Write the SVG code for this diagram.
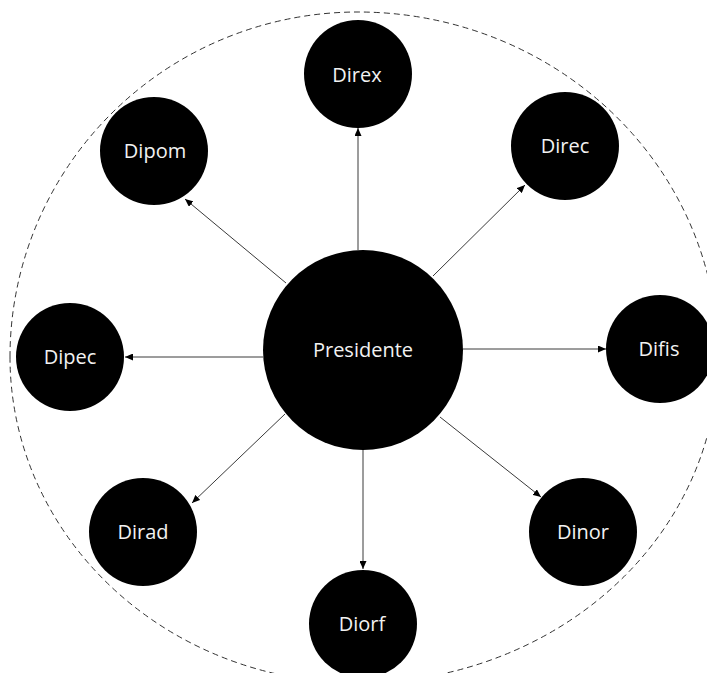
<svg xmlns="http://www.w3.org/2000/svg" width="707" height="673" viewBox="0 0 707 673">
<style>
.node{fill:#000;}
.lbl{fill:#f2f2f2;font-family:"Open Sans","Liberation Sans",sans-serif;font-size:20px;text-anchor:middle;}
.edge{stroke:#3a3a3a;stroke-width:1;fill:none;marker-end:url(#arr);}
.ring{fill:none;stroke:#333;stroke-width:1;stroke-dasharray:6 4;}
</style>
<defs>
<marker id="arr" markerUnits="userSpaceOnUse" markerWidth="8" markerHeight="7" refX="8" refY="3.5" orient="auto">
<path d="M0,0 L8,3.5 L0,7 Z" fill="#000"/>
</marker>
</defs>
<rect width="707" height="673" fill="#fff"/>
<path class="ring" d="M 10 357 A 348 345 0 0 1 358 12 A 360 345 0 0 1 718 357 A 360 326 0 0 1 358 683 A 348 326 0 0 1 10 357 Z"/>
<g id="connectors">
<line class="edge" x1="358" y1="250" x2="358" y2="128"/>
<line class="edge" x1="433" y1="276" x2="525" y2="185"/>
<line class="edge" x1="286" y1="283" x2="185" y2="199"/>
<line class="edge" x1="263" y1="357" x2="125" y2="357"/>
<line class="edge" x1="463" y1="349" x2="606" y2="349"/>
<line class="edge" x1="285" y1="414" x2="192" y2="503"/>
<line class="edge" x1="440" y1="417" x2="541" y2="497"/>
<line class="edge" x1="363" y1="450" x2="363" y2="569"/>
</g>
<g id="presidente"><circle class="node" cx="363" cy="350" r="100"/><text class="lbl" x="363" y="357">Presidente</text></g>
<g id="direx"><circle class="node" cx="358" cy="74" r="54"/><text class="lbl" x="357" y="82">Direx</text></g>
<g id="dipom"><circle class="node" cx="154" cy="151" r="54"/><text class="lbl" x="155" y="158">Dipom</text></g>
<g id="direc"><circle class="node" cx="565" cy="146" r="54"/><text class="lbl" x="565" y="153">Direc</text></g>
<g id="dipec"><circle class="node" cx="70" cy="357" r="54"/><text class="lbl" x="70" y="364">Dipec</text></g>
<g id="difis"><circle class="node" cx="660" cy="349" r="54"/><text class="lbl" x="659" y="356">Difis</text></g>
<g id="dirad"><circle class="node" cx="143" cy="532" r="54"/><text class="lbl" x="143" y="539">Dirad</text></g>
<g id="dinor"><circle class="node" cx="583" cy="532" r="54"/><text class="lbl" x="583" y="539">Dinor</text></g>
<g id="diorf"><circle class="node" cx="363" cy="624" r="54"/><text class="lbl" x="362" y="631">Diorf</text></g>
</svg>
